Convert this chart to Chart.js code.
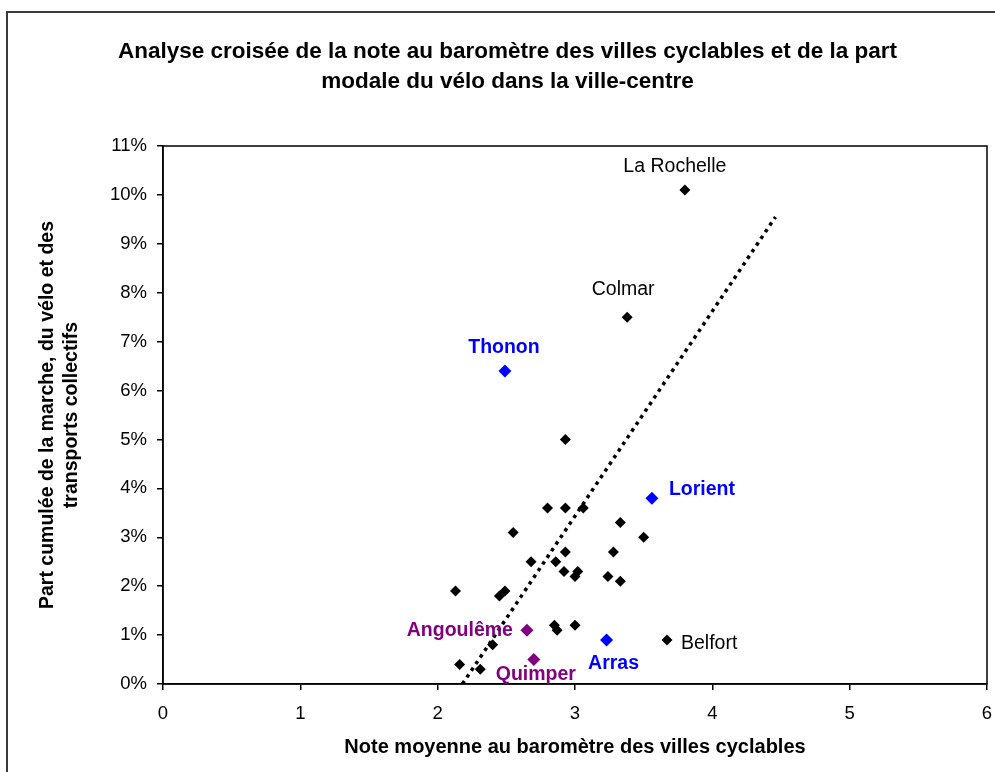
<!DOCTYPE html>
<html lang="fr">
<head>
<meta charset="utf-8">
<script src="https://cdn.jsdelivr.net/npm/chart.js@4/dist/chart.umd.min.js"></script>
<style>
html, body { margin:0; padding:0; background:#fff; }
#cadre { position:absolute; left:6px; top:11px; width:1000px; height:800px; border-top:2px solid #3a3a3a; border-left:2px solid #3a3a3a; }
#grafico { position:absolute; left:0; top:0; }
</style>
</head>
<body>
<div id="cadre"></div>
<canvas id="grafico" width="995" height="772"></canvas>
<script>
// villes en noir (les 3 premières sont nommées)
var villesNoires = ['La Rochelle', 'Colmar', 'Belfort'];
var notesNoires = [3.80, 3.38, 3.67, 2.93, 2.80, 2.93, 3.06, 3.33, 2.55, 3.50, 3.28, 2.93, 2.68, 2.86, 2.92, 3.00, 3.02, 3.24, 3.33, 2.13, 2.45, 2.49, 2.85, 2.87, 3.00, 2.40, 2.16, 2.31];
var partsNoires = [10.1, 7.5, 0.9, 5.0, 3.6, 3.6, 3.6, 3.3, 3.1, 3.0, 2.7, 2.7, 2.5, 2.5, 2.3, 2.2, 2.3, 2.2, 2.1, 1.9, 1.8, 1.9, 1.2, 1.1, 1.2, 0.8, 0.4, 0.3];

var villesBleues = ['Thonon', 'Lorient', 'Arras'];
var notesBleues = [2.49, 3.56, 3.23];
var partsBleues = [6.4, 3.8, 0.9];

var villesViolettes = ['Angoulême', 'Quimper'];
var notesViolettes = [2.65, 2.70];
var partsViolettes = [1.1, 0.5];

// courbe de tendance (extrémités)
var tendanceNotes = [2.18, 4.46];
var tendanceParts = [0, 9.55];

var ticksX = [0, 1, 2, 3, 4, 5, 6];
var ticksY = [0, 1, 2, 3, 4, 5, 6, 7, 8, 9, 10, 11];

function points(xs, ys){
    return xs.map(function(x, i){ return {x: x, y: ys[i]}; });
}

// décalage des étiquettes : [dx, dy, alignement]
var decalages = {
    'La Rochelle': [-10, -23, 'center'],
    'Colmar': [-4, -28, 'center'],
    'Belfort': [14, 4, 'left'],
    'Thonon': [-1, -23, 'center'],
    'Lorient': [17, -9, 'left'],
    'Arras': [7, 24, 'center'],
    'Angoulême': [-14, 0, 'right'],
    'Quimper': [2, 15, 'center']
};

var police = '"Liberation Sans", Arial, sans-serif';

var etiquettes = {
    id: 'etiquettes',
    afterDatasetsDraw: function(chart){
        var ctx = chart.ctx;
        chart.data.datasets.forEach(function(ds, i){
            if (!ds.noms) return;
            var meta = chart.getDatasetMeta(i);
            ds.noms.forEach(function(nom, j){
                var pt = meta.data[j];
                var d = decalages[nom];
                ctx.save();
                ctx.font = ds.policeNom;
                ctx.fillStyle = ds.couleurNom;
                ctx.textAlign = d[2];
                ctx.textBaseline = 'middle';
                ctx.fillText(nom, pt.x + d[0], pt.y + d[1]);
                ctx.restore();
            });
        });
    }
};

var cadreTrace = {
    id: 'cadreTrace',
    beforeDatasetsDraw: function(chart){
        var a = chart.chartArea, ctx = chart.ctx;
        ctx.save();
        ctx.strokeStyle = '#000';
        ctx.lineWidth = 1.5;
        ctx.strokeRect(a.left, a.top, a.right - a.left, a.bottom - a.top);
        ctx.restore();
    }
};

window.onload = function(){
    var contexto = document.getElementById("grafico").getContext("2d");
    var grafico = new Chart(contexto, {
        type: 'scatter',
        data: {
            datasets: [{
                data: points(notesNoires, partsNoires),
                noms: villesNoires,
                policeNom: '19.5px ' + police,
                couleurNom: '#000',
                backgroundColor: '#000',
                borderColor: '#000',
                pointStyle: 'rectRot',
                pointRadius: 5.5,
                borderWidth: 0
            },{
                data: points(notesBleues, partsBleues),
                noms: villesBleues,
                policeNom: 'bold 19.5px ' + police,
                couleurNom: '#0000FF',
                backgroundColor: '#0000FF',
                borderColor: '#0000FF',
                pointStyle: 'rectRot',
                pointRadius: 6.5,
                borderWidth: 0
            },{
                data: points(notesViolettes, partsViolettes),
                noms: villesViolettes,
                policeNom: 'bold 19.5px ' + police,
                couleurNom: '#800080',
                backgroundColor: '#800080',
                borderColor: '#800080',
                pointStyle: 'rectRot',
                pointRadius: 6.5,
                borderWidth: 0
            },{
                type: 'line',
                data: points(tendanceNotes, tendanceParts),
                borderColor: '#000',
                borderWidth: 3.5,
                borderDash: [3.5, 4.5],
                pointRadius: 0,
                fill: false
            }]
        },
        options: {
            responsive: false,
            animation: false,
            layout: { padding: { left: 28, right: 8, top: 0, bottom: 0 } },
            plugins: {
                legend: { display: false },
                tooltip: { enabled: false },
                title: {
                    display: true,
                    text: ['Analyse croisée de la note au baromètre des villes cyclables et de la part', 'modale du vélo dans la ville-centre'],
                    color: '#000',
                    font: { family: police, size: 22.5, weight: 'bold', lineHeight: 30 / 22.5 },
                    padding: { top: 37, bottom: 49 }
                }
            },
            scales: {
                x: {
                    type: 'linear',
                    min: 0, max: 6,
                    afterBuildTicks: function(s){ s.ticks = ticksX.map(function(v){ return {value: v}; }); },
                    afterFit: function(s){ s.height = 88; s.paddingLeft = 0; s.paddingRight = 0; },
                    grid: { drawOnChartArea: false, drawTicks: true, tickLength: 6, color: '#000', lineWidth: 1.5 },
                    border: { color: '#000', width: 1.5 },
                    ticks: { color: '#000', font: { family: police, size: 18.5 }, padding: 13, maxRotation: 0 },
                    title: {
                        display: true,
                        text: 'Note moyenne au baromètre des villes cyclables',
                        color: '#000',
                        font: { family: police, size: 20, weight: 'bold', lineHeight: 1.2 },
                        padding: { top: 0, bottom: 13 }
                    }
                },
                y: {
                    type: 'linear',
                    min: 0, max: 11,
                    afterBuildTicks: function(s){ s.ticks = ticksY.map(function(v){ return {value: v}; }); },
                    afterFit: function(s){ s.width = 135; },
                    grid: { drawOnChartArea: false, drawTicks: true, tickLength: 6, color: '#000', lineWidth: 1.5 },
                    border: { color: '#000', width: 1.5 },
                    ticks: { color: '#000', font: { family: police, size: 18.5 }, padding: 10,
                        callback: function(v){ return v + '%'; } },
                    title: {
                        display: true,
                        text: ['Part cumulée de la marche, du vélo et des', 'transports collectifs'],
                        color: '#000',
                        font: { family: police, size: 19.5, weight: 'bold', lineHeight: 24 / 19.5 },
                        padding: { top: 8, bottom: 0 }
                    }
                }
            }
        },
        plugins: [cadreTrace, etiquettes]
    });
};
</script>
</body>
</html>
